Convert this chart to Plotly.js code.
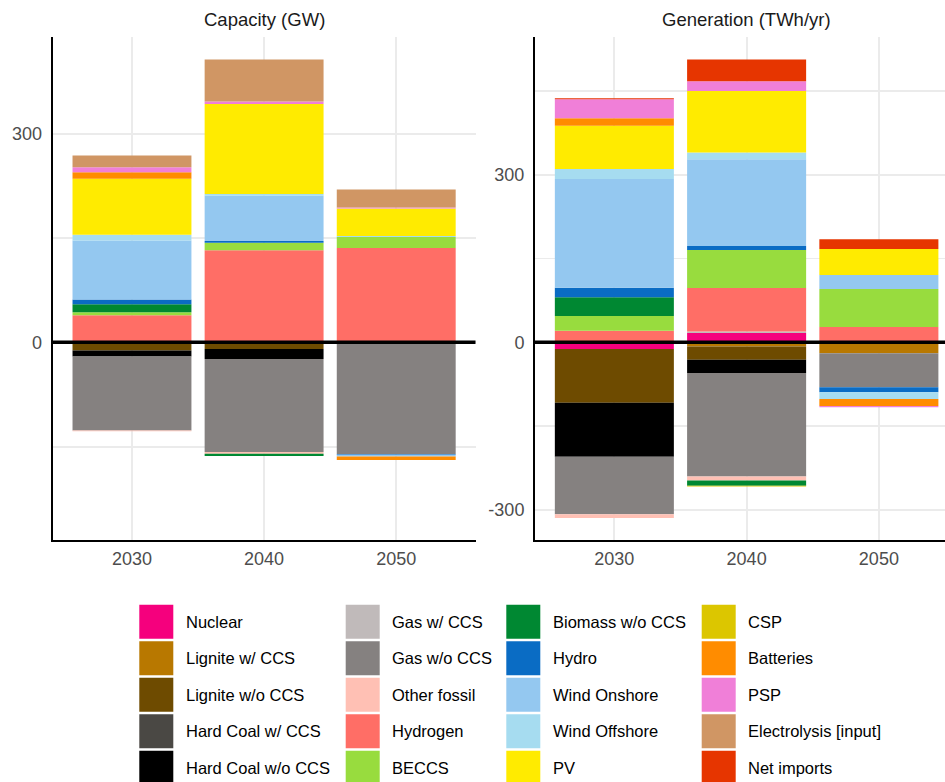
<!DOCTYPE html>
<html>
<head>
<meta charset="utf-8">
<script src="https://cdn.plot.ly/plotly-3.0.1.min.js"></script>
<style>html,body{margin:0;padding:0;background:#fff;}#chart{width:945px;height:782px;}</style>
</head>
<body>
<div id="chart"></div>
<script>
// ---------- DATA ----------
const years = ['2030', '2040', '2050'];
const techs = ['Nuclear', 'Lignite w/ CCS', 'Lignite w/o CCS', 'Hard Coal w/ CCS', 'Hard Coal w/o CCS',
  'Gas w/ CCS', 'Gas w/o CCS', 'Other fossil', 'Hydrogen', 'BECCS',
  'Biomass w/o CCS', 'Hydro', 'Wind Onshore', 'Wind Offshore', 'PV',
  'CSP', 'Batteries', 'PSP', 'Electrolysis [input]', 'Net imports'];
const colors = ['#F5007D', '#B87800', '#6E4B00', '#4A4844', '#000000',
  '#C0BABA', '#858180', '#FFC0B4', '#FF6E66', '#98DC3E',
  '#008832', '#0A6CC4', '#94C8F0', '#A6DCF0', '#FFEB00',
  '#DCC600', '#FF8C00', '#F07FD8', '#D09664', '#E63500'];

// Capacity (GW), values in the order of techs
const cap2030 = [0, 0, -11.8, 0, -8.6, 0, -106.4, -1, 39, 4.3, 11.5, 6.8, 85, 8, 80.5, 0, 9.6, 7, 16.8, 0];
const cap2040 = [0, 0, -9.6, 0, -14.4, 0, -133.8, -2.4, 132.3, 10.9, -3.3, 2.4, 65.2, 2.4, 129.4, 0, 0, 3.9, 60.4, 0];
const cap2050 = [0, 0, 0, 0, 0, 0, -160.6, 0, 135.6, 15.8, 0, -1.2, -2.5, 1.4, 39.8, 0, -5, 1.4, 25.9, 0];

// Generation (TWh/yr), values in the order of techs
const gen2030 = [-12, 0, -96.2, 0, -96.7, 0, -103.2, -6.6, 20.8, 26.3, 33.5, 17.2, 194.7, 17.9, 77.6, 0, 13.3, 34, 0, 1.8];
const gen2040 = [16.5, -7.5, -23.8, 0, -23.9, 2.7, -185, -7.2, 78.1, 68.1, -9.5, 7.2, 155.3, 12, 110.3, -1.2, 0, 17.4, 0, 38.9];
const gen2050 = [0, -19.7, 0, 0, 0, 0, -60.9, 0, 27.4, 68.1, 0, -9, 25.1, -12, 46.6, 0, -12.5, -2.3, 0, 17.4];

const panelTitles = ['Capacity (GW)', 'Generation (TWh/yr)'];
const yTickVals = [-450, -300, -150, 0, 150, 300, 450];
const yTickText = ['', '-300', '', '0', '', '300', ''];

// ---------- LAYOUT HELPERS ----------
const W = 945, H = 782;
const px = v => v / W;
const py = v => 1 - v / H;
const FONT = 'Liberation Sans, Arial, Helvetica, sans-serif';

const traces = [];
techs.forEach((t, i) => {
  traces.push({
    type: 'bar', name: t, x: years, y: [cap2030[i], cap2040[i], cap2050[i]],
    xaxis: 'x', yaxis: 'y', marker: {color: colors[i], line: {width: 0}},
    showlegend: false, hoverinfo: 'skip'
  });
  traces.push({
    type: 'bar', name: t, x: years, y: [gen2030[i], gen2040[i], gen2050[i]],
    xaxis: 'x2', yaxis: 'y2', marker: {color: colors[i], line: {width: 0}},
    showlegend: false, hoverinfo: 'skip'
  });
});

const gridCol = '#EBEBEB';
const xBase = {
  type: 'category', showgrid: true, gridcolor: gridCol, gridwidth: 1.8,
  showline: true, linecolor: '#000', linewidth: 2, zeroline: false,
  ticks: 'outside', ticklen: 1, tickcolor: 'rgba(0,0,0,0)',
  tickfont: {family: FONT, size: 18, color: '#4D4D4D'}, fixedrange: true, automargin: false
};
const yBase = {
  tickmode: 'array', tickvals: yTickVals, ticktext: yTickText,
  showgrid: true, gridcolor: gridCol, gridwidth: 1.8,
  showline: true, linecolor: '#000', linewidth: 2, zeroline: false,
  ticks: 'outside', ticklen: 5, tickcolor: 'rgba(0,0,0,0)',
  tickfont: {family: FONT, size: 18, color: '#4D4D4D'}, fixedrange: true, automargin: false
};

const shapes = [
  {type: 'line', xref: 'x domain', yref: 'y', x0: 0, x1: 1, y0: 0, y1: 0,
   line: {color: '#000', width: 3.5}, layer: 'above'},
  {type: 'line', xref: 'x2 domain', yref: 'y2', x0: 0, x1: 1, y0: 0, y1: 0,
   line: {color: '#000', width: 3.5}, layer: 'above'}
];
const annotations = [
  {text: panelTitles[0], x: px(264), y: py(20), xref: 'paper', yref: 'paper',
   xanchor: 'center', yanchor: 'middle', showarrow: false,
   font: {family: FONT, size: 18.5, color: '#1A1A1A'}},
  {text: panelTitles[1], x: px(746.5), y: py(20), xref: 'paper', yref: 'paper',
   xanchor: 'center', yanchor: 'middle', showarrow: false,
   font: {family: FONT, size: 18.5, color: '#1A1A1A'}}
];

// legend grid (4 columns x 5 rows, column-major)
const colSwatchX = [139.3, 345.7, 506.3, 701.7];
const colTextX = [184, 390, 551, 746];
const rowTop = 604.7, rowPitch = 36.5, sw = 34, sh = 34;
techs.forEach((t, i) => {
  const c = Math.floor(i / 5), r = i % 5;
  const top = rowTop + r * rowPitch;
  shapes.push({type: 'rect', xref: 'paper', yref: 'paper',
    x0: px(colSwatchX[c]), x1: px(colSwatchX[c] + sw), y0: py(top + sh), y1: py(top),
    fillcolor: colors[i], line: {width: 0}, layer: 'above'});
  annotations.push({text: t, xref: 'paper', yref: 'paper', x: px(colTextX[c]), y: py(top + sh / 2),
    xanchor: 'left', yanchor: 'middle', showarrow: false,
    font: {family: FONT, size: 16.5, color: '#000'}});
});

const layout = {
  width: W, height: H, margin: {l: 0, r: 0, t: 0, b: 0, pad: 0},
  paper_bgcolor: '#fff', plot_bgcolor: '#fff',
  barmode: 'relative', bargap: 0.1, showlegend: false, hovermode: false,
  font: {family: FONT},
  xaxis: Object.assign({}, xBase, {domain: [px(52.7), px(475.5)], range: [-0.6, 2.6], anchor: 'y'}),
  yaxis: Object.assign({}, yBase, {domain: [py(540), py(37)], range: [-284.3, 439.1], anchor: 'x'}),
  xaxis2: Object.assign({}, xBase, {domain: [px(535), 1], range: [-0.6, 2.5], anchor: 'y2'}),
  yaxis2: Object.assign({}, yBase, {domain: [py(540), py(37)], range: [-354.1, 546.8], anchor: 'x2'}),
  shapes: shapes, annotations: annotations
};

Plotly.newPlot('chart', traces, layout, {staticPlot: true, displayModeBar: false});
</script>
</body>
</html>
